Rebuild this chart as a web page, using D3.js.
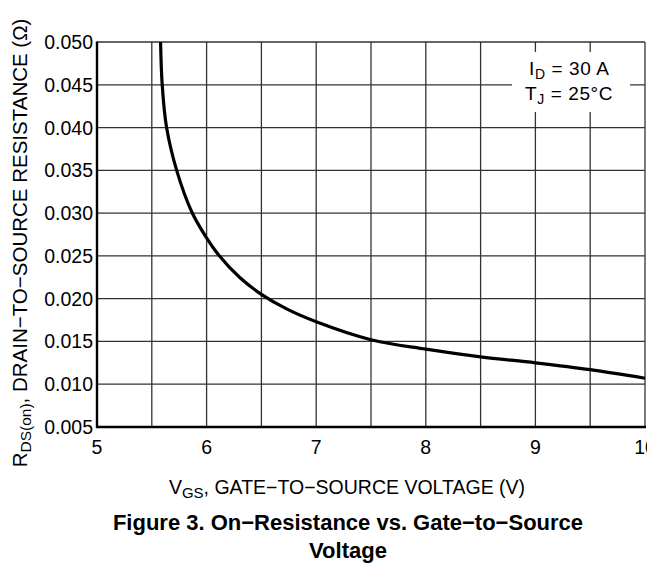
<!DOCTYPE html>
<html><head><meta charset="utf-8">
<script src="https://cdn.jsdelivr.net/npm/d3@7"></script>
<style>
html,body{margin:0;padding:0;background:#fff;}
text{font-family:"Liberation Sans",Arial,Helvetica,sans-serif;fill:#000;}
</style></head>
<body>
<svg id="chart" width="647" height="567"></svg>
<script>
// Data
const vgs   = [5.58, 5.595, 5.635, 5.727, 5.866, 6.0, 6.11, 6.3, 6.5, 6.73, 7.0, 7.5, 8.0, 8.5, 9.0, 9.5, 10.0];
const rdson = [0.0500, 0.0450, 0.0400, 0.0350, 0.0301, 0.0271, 0.0251, 0.0225, 0.0205, 0.0188, 0.0173, 0.0152, 0.0141, 0.0132, 0.0125, 0.0117, 0.0107];
const xTicks = [5, 6, 7, 8, 9, 10];
const xGrid = [5, 5.5, 6, 6.5, 7, 7.5, 8, 8.5, 9, 9.5, 10];
const yTicks = [0.005, 0.010, 0.015, 0.020, 0.025, 0.030, 0.035, 0.040, 0.045, 0.050];

const svg = d3.select("#chart");
const L = 97, R = 645, T = 42, B = 427;
const x = d3.scaleLinear().domain([5, 10]).range([L, R]);
const y = d3.scaleLinear().domain([0.005, 0.050]).range([B, T]);

// grid
const g = svg.append("g");
g.selectAll("line.v").data(xGrid).enter().append("line")
  .attr("x1", d => x(d)).attr("x2", d => x(d)).attr("y1", T).attr("y2", B)
  .attr("stroke", "#333").attr("stroke-width", 1.3);
g.selectAll("line.h").data(yTicks).enter().append("line")
  .attr("x1", L).attr("x2", R).attr("y1", d => y(d)).attr("y2", d => y(d))
  .attr("stroke", "#333").attr("stroke-width", 1.3);

// legend background (interrupts grid)
svg.append("rect").attr("x", 512).attr("y", 52).attr("width", 118).attr("height", 60).attr("fill", "#fff");

// axes frame: left and bottom thicker
svg.append("line").attr("x1", L).attr("x2", L).attr("y1", T - 0.5).attr("y2", B + 1).attr("stroke", "#000").attr("stroke-width", 2.4);
svg.append("line").attr("x1", L - 1).attr("x2", R + 1).attr("y1", B).attr("y2", B).attr("stroke", "#000").attr("stroke-width", 2.4);

// curve
const line = d3.line().x((d, i) => x(vgs[i])).y(d => y(d)).curve(d3.curveCatmullRom.alpha(0.5));
svg.append("path").datum(rdson).attr("d", line)
  .attr("fill", "none").attr("stroke", "#000").attr("stroke-width", 3.2);

// y tick labels
svg.selectAll("text.yt").data(yTicks).enter().append("text")
  .attr("x", L - 4).attr("y", d => y(d)).attr("dy", "0.36em")
  .attr("text-anchor", "end").style("font-size", "19.5px")
  .text(d => d3.format(".3f")(d));

// x tick labels
svg.selectAll("text.xt").data(xTicks).enter().append("text")
  .attr("x", d => x(d)).attr("y", 454)
  .attr("text-anchor", "middle").style("font-size", "19.5px")
  .text(d => d);

// legend text
const lg = svg.append("text").attr("x", 529).attr("y", 75).style("font-size", "19px").style("letter-spacing", "0.6px");
lg.append("tspan").text("I");
lg.append("tspan").attr("dy", 4).style("font-size", "14px").text("D");
lg.append("tspan").attr("dy", -4).text(" = 30 A");
const lg2 = svg.append("text").attr("x", 525).attr("y", 100).style("font-size", "19px").style("letter-spacing", "0.6px");
lg2.append("tspan").text("T");
lg2.append("tspan").attr("dy", 4).style("font-size", "14px").text("J");
lg2.append("tspan").attr("dy", -4).text(" = 25\u00B0C");

// x axis title
const xt = svg.append("text").attr("x", 347).attr("y", 494).attr("text-anchor", "middle").style("font-size", "19.5px");
xt.append("tspan").text("V");
xt.append("tspan").attr("dy", 4).style("font-size", "15px").text("GS");
xt.append("tspan").attr("dy", -4).text(", GATE\u2212TO\u2212SOURCE VOLTAGE (V)");

// y axis title
const yt = svg.append("text").attr("transform", "translate(27,243) rotate(-90)").attr("text-anchor", "middle").style("font-size", "20.5px");
yt.append("tspan").text("R");
yt.append("tspan").attr("dy", 4).style("font-size", "15.5px").text("DS(on)");
yt.append("tspan").attr("dy", -4).text(", DRAIN\u2212TO\u2212SOURCE RESISTANCE (\u03A9)");

// caption
svg.append("text").attr("x", 348).attr("y", 530).attr("text-anchor", "middle")
  .style("font-size", "22px").style("font-weight", "bold")
  .text("Figure 3. On\u2212Resistance vs. Gate\u2212to\u2212Source");
svg.append("text").attr("x", 348).attr("y", 558).attr("text-anchor", "middle")
  .style("font-size", "22px").style("font-weight", "bold")
  .text("Voltage");
</script>
</body></html>
